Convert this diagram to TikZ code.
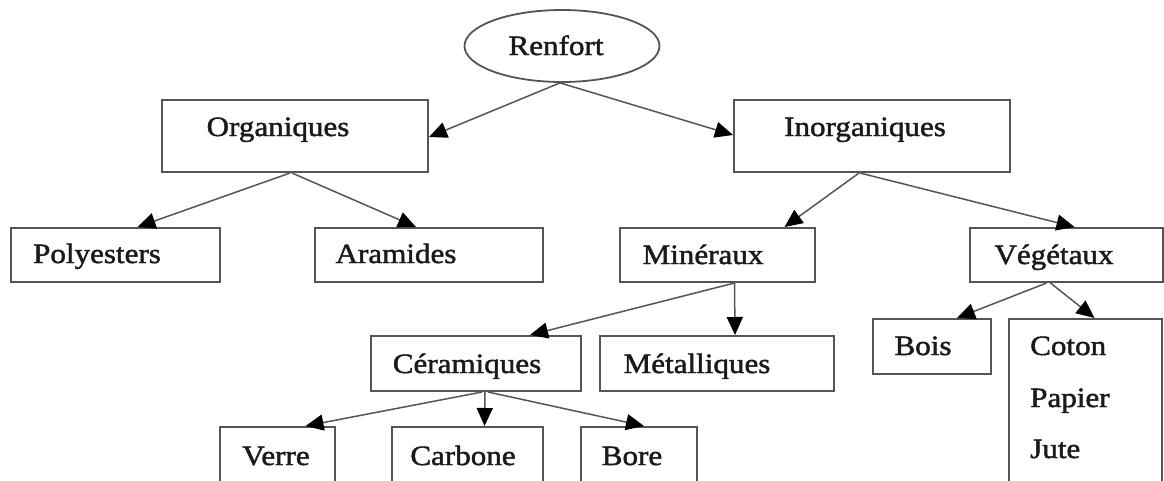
\documentclass[tikz,border=0pt]{standalone}
\usepackage{fontspec}
\setmainfont{Liberation Serif}[FakeStretch=1.11,FakeBold=1.6]
\usetikzlibrary{arrows.meta,shapes.geometric}
\definecolor{edge}{HTML}{555555}
\definecolor{ink}{HTML}{1A1A1A}
\tikzset{
  box/.style={draw=edge,line width=2pt,rectangle,inner sep=0pt},
  lbl/.style={anchor=base,inner sep=0pt,text=ink,font=\fontsize{28}{28}\selectfont},
  arr/.style={draw=edge,line width=1.5pt,-{Triangle[length=18pt,width=16pt,color=black]}},
}
\newcommand{\boxat}[5]{\node[box,minimum width={(#4)-(#2)},minimum height={(#5)-(#3)}] (#1) at ({((#2)+(#4))/2},{((#3)+(#5))/2}) {};}
\begin{document}
\begin{tikzpicture}[x=1pt,y=-1pt]
\useasboundingbox (0,0) rectangle (1164,480);
\clip (0,0) rectangle (1164,480);
\fill[white] (0,0) rectangle (1164,480);
% nodes
\node[ellipse,draw=edge,line width=1.8pt,minimum width=195pt,minimum height=72pt,inner sep=0pt] (ren) at (562,46) {};
\boxat{org}{162}{100}{428}{172}
\boxat{inorg}{734}{100}{1010}{172}
\boxat{poly}{11}{228}{220}{282}
\boxat{ara}{315}{228}{543}{282}
\boxat{mine}{620}{228}{815}{282}
\boxat{veg}{970}{228}{1163}{282}
\boxat{cer}{371}{336}{581}{391}
\boxat{met}{600}{336}{834}{391}
\boxat{verre}{220}{427}{335}{500}
\boxat{carb}{392}{427}{543}{500}
\boxat{bore}{581}{427}{697}{500}
\boxat{bois}{873}{319}{991}{374}
\boxat{coton}{1009}{319}{1162}{500}
% labels
\node[lbl] (tren) at (556,55) {Renfort};
\node[lbl] (torg) at (278,136) {Organiques};
\node[lbl] (tinorg) at (865,136) {Inorganiques};
\node[lbl] (tpoly) at (97,263) {Polyesters};
\node[lbl] (tara) at (396,263) {Aramides};
\node[lbl] (tmine) at (703,264) {Minéraux};
\node[lbl] (tveg) at (1054,264) {Végétaux};
\node[lbl] (tcer) at (467,373) {Céramiques};
\node[lbl] (tmet) at (697,373) {Métalliques};
\node[lbl] (tverre) at (276,465) {Verre};
\node[lbl] (tcarb) at (463,465) {Carbone};
\node[lbl] (tbore) at (632,465) {Bore};
\node[lbl] (tbois) at (923,355) {Bois};
\node[lbl,anchor=base west] (tcot) at (1030,355) {Coton};
\node[lbl,anchor=base west] (tpap) at (1030,407) {Papier};
\node[lbl,anchor=base west] (tjut) at (1030,458) {Jute};
% connectors
\draw[arr] ([xshift=-2pt]ren.south) -- ([yshift=-1pt]org.east);
\draw[arr] ([xshift=-2pt]ren.south) -- ([yshift=1pt]inorg.west);
\draw[arr] ([xshift=-5pt]org.south) -- ([xshift=22pt]poly.north);
\draw[arr] ([xshift=-3pt]org.south) -- ([xshift=-13pt]ara.north);
\draw[arr] ([xshift=-13pt]inorg.south) -- ([xshift=67pt]mine.north);
\draw[arr] ([xshift=-12pt]inorg.south) -- ([xshift=8pt]veg.north);
\draw[arr] ([xshift=17pt]mine.south) -- ([xshift=54pt]cer.north);
\draw[arr] ([xshift=17pt]mine.south) -- ([xshift=18pt]met.north);
\draw[arr] ([xshift=-20pt]veg.south) -- ([xshift=25pt]bois.north);
\draw[arr] ([xshift=-16pt]veg.south) -- ([xshift=9pt]coton.north);
\draw[arr] ([xshift=6pt]cer.south) -- ([xshift=28pt]verre.north);
\draw[arr] ([xshift=9pt]cer.south) -- ([xshift=17pt]carb.north);
\draw[arr] ([xshift=12pt]cer.south) -- ([xshift=5pt]bore.north);
\end{tikzpicture}
\end{document}
